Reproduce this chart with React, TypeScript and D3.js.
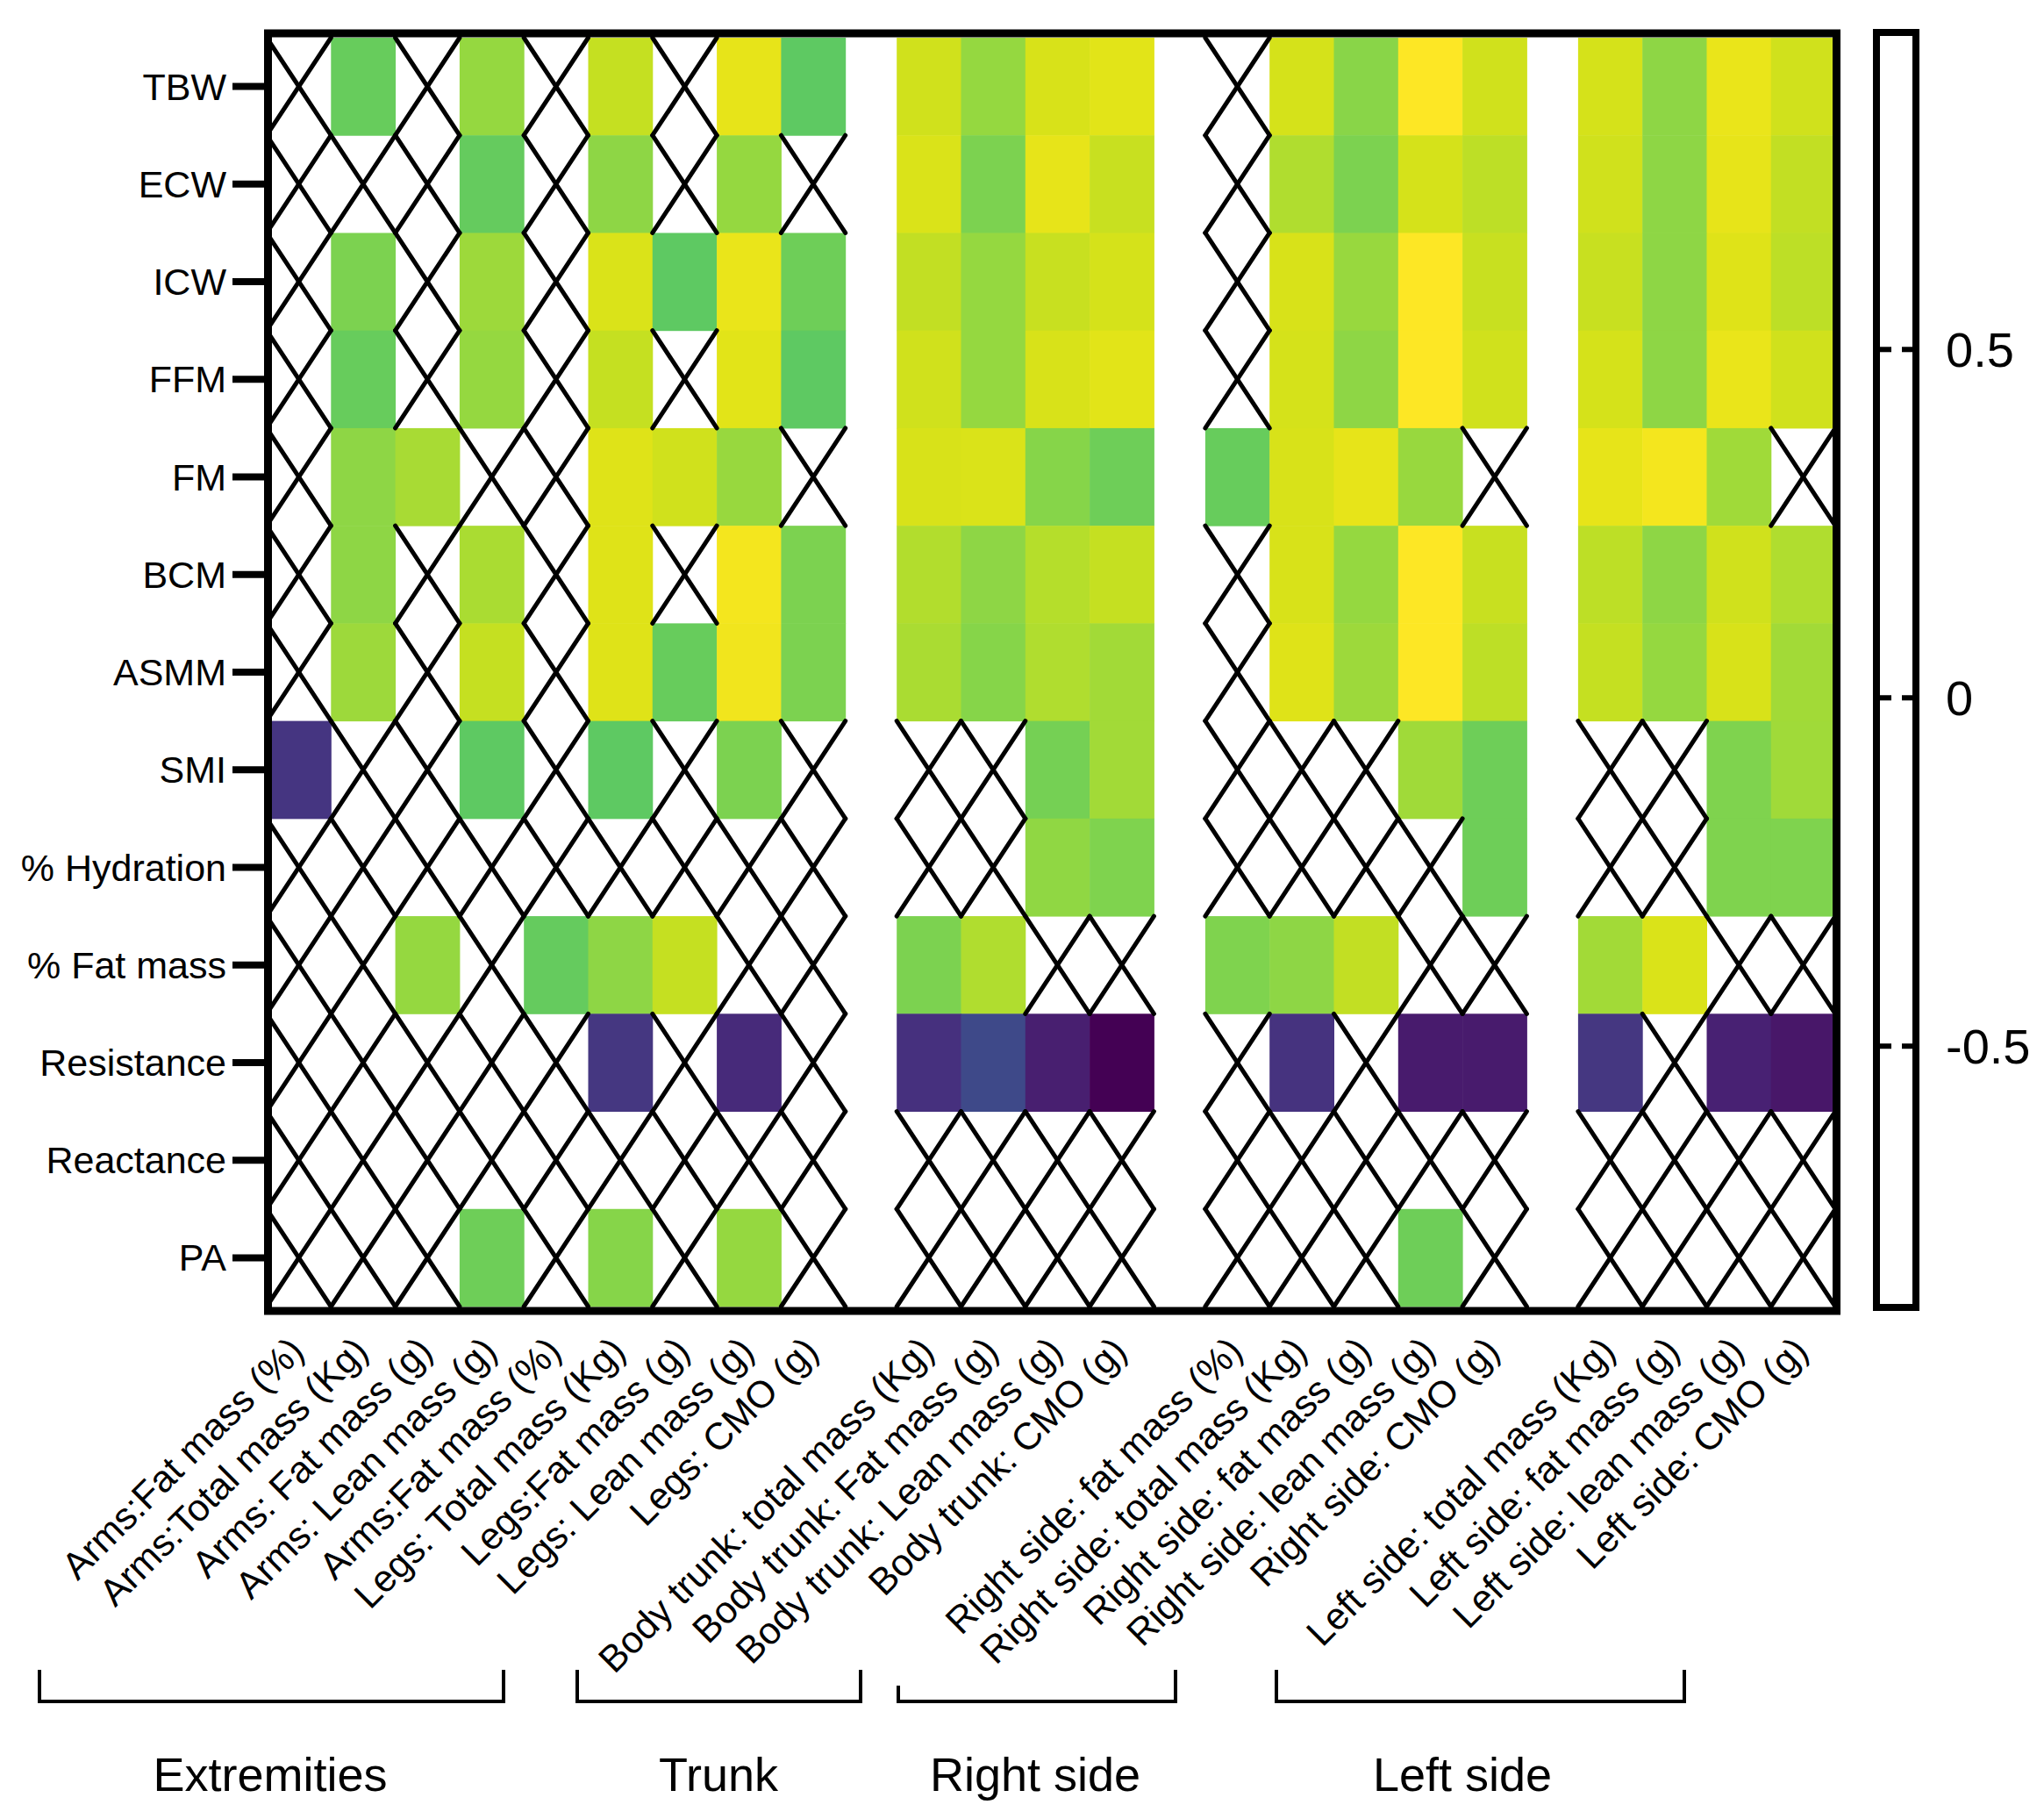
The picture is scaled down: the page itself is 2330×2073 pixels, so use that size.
import React from "react";
import * as d3 from "d3";

// 행(생체 임피던스 변수)
const rowLabels = ["TBW", "ECW", "ICW", "FFM", "FM", "BCM", "ASMM", "SMI", "% Hydration", "% Fat mass", "Resistance", "Reactance", "PA"];

// 열(DXA 변수), 그룹별
const colLabels = [
  "Arms:Fat mass (%)", "Arms:Total mass (Kg)", "Arms: Fat mass (g)", "Arms: Lean mass (g)", "Arms:Fat mass (%)",
  "Legs: Total mass (Kg)", "Legs:Fat mass (g)", "Legs: Lean mass (g)", "Legs: CMO (g)",
  "Body trunk: total mass (Kg)", "Body trunk: Fat mass (g)", "Body trunk: Lean mass (g)", "Body trunk: CMO (g)",
  "Right side: fat mass (%)", "Right side: total mass (Kg)", "Right side: fat mass (g)", "Right side: lean mass (g)", "Right side: CMO (g)",
  "Left side: total mass (Kg)", "Left side: fat mass (g)", "Left side: lean mass (g)", "Left side: CMO (g)",
];
const colGroupSizes = [9, 4, 5, 4];

// 상관계수 (null = 유의하지 않음, X 표시)
const _ = null;
const tbw = [_, 0.53, _, 0.66, _, 0.79, _, 0.88, 0.5, 0.82, 0.66, 0.84, 0.87, _, 0.83, 0.63, 0.95, 0.82, 0.83, 0.64, 0.89, 0.82];
const ecw = [_, _, _, 0.52, _, 0.64, _, 0.66, _, 0.85, 0.59, 0.88, 0.8, _, 0.73, 0.59, 0.83, 0.77, 0.82, 0.64, 0.88, 0.78];
const icw = [_, 0.59, _, 0.68, _, 0.85, 0.5, 0.89, 0.55, 0.78, 0.66, 0.8, 0.83, _, 0.84, 0.67, 0.95, 0.8, 0.8, 0.64, 0.86, 0.77];
const ffm = [_, 0.53, _, 0.66, _, 0.79, _, 0.87, 0.5, 0.82, 0.66, 0.84, 0.87, _, 0.83, 0.64, 0.95, 0.82, 0.83, 0.64, 0.89, 0.82];
const fm = [_, 0.64, 0.71, _, _, 0.86, 0.82, 0.67, _, 0.84, 0.85, 0.62, 0.55, 0.53, 0.84, 0.88, 0.67, _, 0.88, 0.92, 0.69, _];
const bcm = [_, 0.64, _, 0.72, _, 0.86, _, 0.92, 0.59, 0.74, 0.64, 0.75, 0.79, _, 0.84, 0.66, 0.95, 0.8, 0.77, 0.64, 0.82, 0.73];
const asmm = [_, 0.68, _, 0.79, _, 0.86, 0.53, 0.91, 0.59, 0.72, 0.62, 0.73, 0.7, _, 0.86, 0.68, 0.95, 0.77, 0.79, 0.66, 0.84, 0.7];
const smi = [-0.59, _, _, 0.5, _, 0.5, _, 0.59, _, _, _, 0.57, 0.7, _, _, _, 0.69, 0.55, _, _, 0.6, 0.69];
const hydration = [_, _, _, _, _, _, _, _, _, _, _, 0.65, 0.6, _, _, _, _, 0.55, _, _, 0.6, 0.6];
const fatPct = [_, _, 0.66, _, 0.52, 0.64, 0.79, _, _, 0.59, 0.73, _, _, 0.6, 0.64, 0.78, _, _, 0.7, 0.85, _, _];
const resistance = [_, _, _, _, _, -0.58, _, -0.65, _, -0.62, -0.47, -0.72, -0.87, _, -0.6, _, -0.74, -0.74, -0.58, _, -0.7, -0.76];
const reactance = [_, _, _, _, _, _, _, _, _, _, _, _, _, _, _, _, _, _, _, _, _, _];
const pa = [_, _, _, 0.55, _, 0.62, _, 0.66, _, _, _, _, _, _, _, _, 0.55, _, _, _, _, _];

const values = [tbw, ecw, icw, ffm, fm, bcm, asmm, smi, hydration, fatPct, resistance, reactance, pa];

// 색 범위와 범례 눈금
const colorMin = -0.87;
const colorMax = 0.95;
const legendTicks = [0.5, 0, -0.5];

// 아래 그룹 괄호
const groupLabels = ["Extremities", "Trunk", "Right side", "Left side"];

const FONT = "'Liberation Sans', Arial, sans-serif";

const App: React.FC = () => {
  const width = 2330;
  const height = 2073;
  const left = 304;
  const top = 43;
  const bottom = 1489;
  const cellW = 73.3;
  const gapW = 58.5;

  const y = d3.scaleBand<string>().domain(rowLabels).range([top, bottom]).padding(0);
  const slot = d3.scaleLinear().domain([0, 1]).range([left, left + cellW]);

  // 열 -> 그룹 인덱스
  const groupOf: number[] = [];
  colGroupSizes.forEach((n, g) => d3.range(n).forEach(() => groupOf.push(g)));
  const colX = (i: number) => slot(i) + groupOf[i] * gapW;

  const color = d3.scaleSequential(d3.interpolateViridis).domain([colorMin, colorMax]);
  const legendY = d3.scaleLinear().domain([colorMin, colorMax]).range([1486, 41]);

  const cells: { r: number; c: number; v: number | null }[] = [];
  values.forEach((row, r) => row.forEach((v, c) => cells.push({ r, c, v })));

  const rh = y.bandwidth();

  // 괄호 위치 (주석)
  const brackets = [
    { x0: 45, x1: 574, t0: 1903, t1: 1903, cx: 308 },
    { x0: 658, x1: 981, t0: 1903, t1: 1903, cx: 819 },
    { x0: 1024, x1: 1340, t0: 1921, t1: 1903, cx: 1180 },
    { x0: 1455, x1: 1920, t0: 1903, t1: 1903, cx: 1667 },
  ];

  return (
    <svg width={width} height={height} style={{ position: "absolute", left: 0, top: 0, background: "#fff" }} fontFamily={FONT}>
      {/* 셀 */}
      {cells.filter(d => d.v !== null).map(d => (
        <rect key={`c${d.r}-${d.c}`} x={colX(d.c)} y={y(rowLabels[d.r])!} width={cellW + 0.5} height={rh + 0.5} fill={color(d.v as number)} />
      ))}
      {/* 유의하지 않은 셀: X */}
      {cells.filter(d => d.v === null).map(d => {
        const x0 = colX(d.c), x1 = x0 + cellW;
        const y0 = y(rowLabels[d.r])!, y1 = y0 + rh;
        return (
          <g key={`x${d.r}-${d.c}`} stroke="#000" strokeWidth={5} strokeLinecap="round">
            <line x1={x0} y1={y0} x2={x1} y2={y1} />
            <line x1={x1} y1={y0} x2={x0} y2={y1} />
          </g>
        );
      })}
      {/* 테두리 */}
      <rect x={305.5} y={38} width={1788} height={1456} fill="none" stroke="#000" strokeWidth={9} />

      {/* y축 */}
      {rowLabels.map(l => {
        const cy = y(l)! + rh / 2;
        return (
          <g key={l}>
            <line x1={265} x2={302} y1={cy} y2={cy} stroke="#000" strokeWidth={8} />
            <text x={258} y={cy} dy="0.35em" textAnchor="end" fontSize={43}>{l}</text>
          </g>
        );
      })}

      {/* x축 라벨 */}
      {colLabels.map((l, i) => {
        const cx = colX(i) + cellW / 2;
        return (
          <text key={i} transform={`translate(${cx + 8},${1542}) rotate(-45)`} textAnchor="end" fontSize={43}>{l}</text>
        );
      })}

      {/* 그룹 괄호 */}
      {brackets.map((b, i) => (
        <g key={i}>
          <path d={`M${b.x0},${b.t0}V1939H${b.x1}V${b.t1}`} fill="none" stroke="#000" strokeWidth={4} />
          <text x={b.cx} y={2041} textAnchor="middle" fontSize={54}>{groupLabels[i]}</text>
        </g>
      ))}

      {/* 범례 막대 */}
      <rect x={2139} y={37} width={45} height={1453} fill="#fff" stroke="#000" strokeWidth={8} />
      {legendTicks.map(t => {
        const ty = legendY(t);
        return (
          <g key={t}>
            <line x1={2143} x2={2156} y1={ty} y2={ty} stroke="#000" strokeWidth={6} />
            <line x1={2168} x2={2181} y1={ty} y2={ty} stroke="#000" strokeWidth={6} />
            <text x={2218} y={ty} dy="0.35em" fontSize={56}>{t === 0 ? "0" : t < 0 ? `-${Math.abs(t)}` : `${t}`}</text>
          </g>
        );
      })}
    </svg>
  );
};

export default App;
